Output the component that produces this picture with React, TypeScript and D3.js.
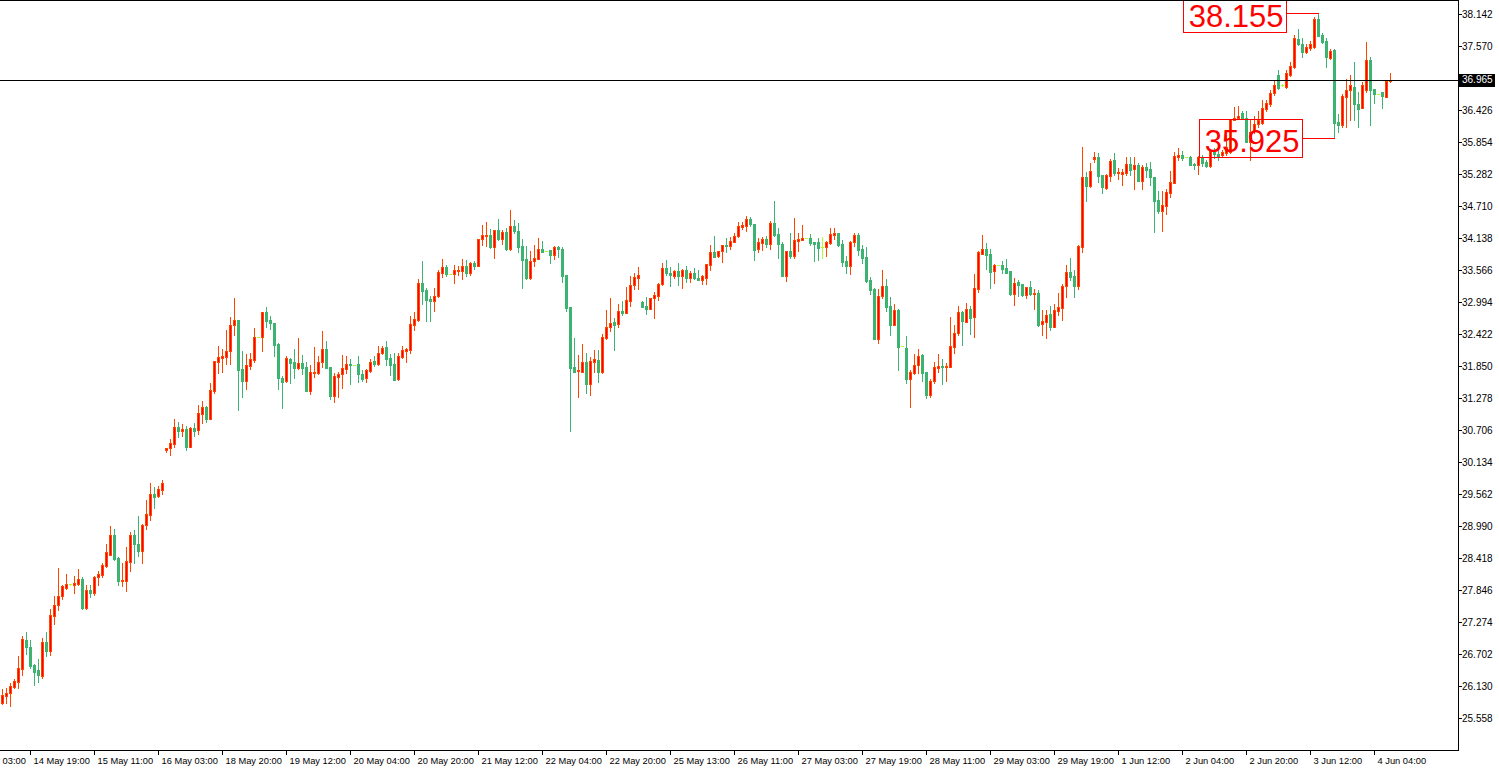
import React, { useEffect } from 'react';
import * as d3 from 'd3';

// ---- data (hourly candles: open, high, low, close) ----
const candles: [number, number, number, number][] = [
  [25.83,26.08,25.81,25.97],[25.96,26.09,25.83,26.00],[26.00,26.18,25.78,26.13],[26.12,26.25,26.09,26.22],
  [26.21,26.67,26.09,26.45],[26.44,27.02,26.33,26.97],[26.95,27.09,26.71,26.82],[26.83,26.95,26.45,26.49],
  [26.51,26.52,26.15,26.38],[26.42,26.61,26.21,26.33],[26.31,26.99,26.28,26.92],[26.92,27.09,26.67,26.75],
  [26.76,27.50,26.68,27.40],[27.39,27.74,27.24,27.58],[27.57,28.24,27.49,27.74],[27.73,27.93,27.69,27.92],
  [27.89,28.14,27.86,27.95],[27.95,27.96,27.94,27.95],[27.94,28.10,27.79,27.98],[27.95,28.22,27.93,28.04],
  [28.04,28.07,27.51,27.52],[27.52,27.93,27.51,27.85],[27.85,27.93,27.72,27.79],[27.80,28.10,27.76,28.08],
  [28.07,28.18,27.94,28.13],[28.11,28.33,28.08,28.29],[28.28,28.66,28.26,28.52],[28.48,28.99,28.47,28.83],
  [28.83,28.93,28.38,28.40],[28.41,28.43,27.93,28.00],[28.00,28.33,27.92,28.02],[28.01,28.62,27.83,28.36],
  [28.35,28.88,28.19,28.83],[28.83,28.92,28.32,28.67],[28.67,29.17,28.46,28.55],[28.55,29.03,28.32,29.01],
  [29.00,29.46,28.94,29.20],[29.19,29.76,29.10,29.57],[29.57,29.69,29.32,29.50],[29.53,29.70,29.51,29.65],
  [29.64,29.81,29.56,29.76],[30.34,30.38,30.32,30.38],[30.38,30.54,30.26,30.47],[30.46,30.90,30.41,30.76],
  [30.76,30.85,30.58,30.69],[30.69,30.81,30.60,30.73],[30.73,30.78,30.35,30.40],[30.41,30.76,30.41,30.74],
  [30.74,30.83,30.60,30.68],[30.70,31.15,30.64,31.01],[31.00,31.22,30.83,31.12],[31.12,31.14,30.85,30.91],
  [30.91,31.55,30.91,31.42],[31.40,31.94,31.37,31.94],[31.93,32.21,31.72,32.01],[32.00,32.15,31.74,32.03],
  [32.01,32.49,31.89,32.12],[32.11,32.73,31.89,32.58],[32.58,33.07,32.40,32.67],[32.67,32.67,31.06,31.78],
  [31.80,32.12,31.30,31.59],[31.59,32.06,31.43,31.87],[31.85,32.08,31.80,31.97],[31.96,32.53,31.93,32.37],
  [32.36,32.36,32.36,32.36],[32.36,32.82,32.12,32.82],[32.82,32.90,32.54,32.66],[32.67,32.74,32.52,32.62],
  [32.62,32.62,32.03,32.22],[32.24,32.27,31.43,31.64],[31.64,31.68,31.10,31.57],[31.58,32.02,31.56,31.99],
  [31.97,32.00,31.55,31.90],[31.92,32.15,31.64,31.82],[31.81,32.35,31.80,31.90],[31.90,32.05,31.71,31.82],
  [31.84,31.92,31.40,31.41],[31.41,31.87,31.35,31.74],[31.74,32.19,31.66,31.75],[31.73,32.03,31.71,31.93],
  [31.93,32.48,31.84,32.15],[32.15,32.30,31.82,31.82],[31.83,31.83,31.26,31.32],[31.32,31.72,31.20,31.67],
  [31.66,31.75,31.29,31.71],[31.70,32.05,31.46,31.81],[31.80,32.02,31.72,31.88],[31.88,31.97,31.53,31.86],
  [31.86,31.86,31.86,31.86],[31.88,32.02,31.57,31.71],[31.71,31.77,31.59,31.62],[31.63,31.80,31.56,31.77],
  [31.76,31.97,31.74,31.93],[31.94,32.03,31.85,31.89],[31.89,32.21,31.87,32.09],[32.09,32.21,32.06,32.17],
  [32.19,32.30,31.87,31.98],[31.99,32.06,31.69,31.87],[31.89,32.08,31.60,31.60],[31.62,32.08,31.60,32.03],
  [32.01,32.21,31.99,32.13],[32.12,32.18,31.92,32.15],[32.14,32.75,32.08,32.60],[32.59,32.82,32.49,32.69],
  [32.68,33.41,32.65,33.33],[33.33,33.73,32.96,33.19],[33.21,33.25,32.66,33.03],[33.05,33.10,32.66,33.02],
  [33.02,33.24,32.84,33.11],[33.11,33.56,33.09,33.53],[33.52,33.76,33.44,33.62],[33.62,33.65,33.45,33.50],
  [33.50,33.50,33.50,33.50],[33.50,33.65,33.34,33.57],[33.54,33.64,33.48,33.57],[33.55,33.76,33.41,33.64],
  [33.64,33.74,33.46,33.51],[33.51,33.71,33.48,33.69],[33.69,33.73,33.58,33.64],[33.64,34.12,33.64,34.12],
  [34.12,34.37,34.01,34.19],[34.19,34.42,33.99,34.20],[34.19,34.30,33.96,33.98],[33.98,34.28,33.78,34.28],
  [34.28,34.48,34.10,34.12],[34.12,34.28,34.03,34.24],[34.24,34.32,33.92,33.94],[33.94,34.64,33.92,34.35],
  [34.35,34.46,34.23,34.26],[34.26,34.40,33.89,33.98],[34.00,34.12,33.24,33.75],[33.76,33.99,33.41,33.42],
  [33.43,33.91,33.41,33.73],[33.73,34.01,33.64,33.78],[33.76,34.14,33.76,33.94],[33.94,34.08,33.89,33.89],
  [33.91,33.91,33.91,33.91],[33.92,33.92,33.69,33.83],[33.83,34.00,33.76,33.98],[33.98,34.00,33.80,33.94],
  [33.94,33.98,33.35,33.46],[33.48,33.48,32.83,32.89],[32.90,32.90,30.69,31.82],[31.83,32.35,31.75,31.75],
  [31.77,32.05,31.30,31.78],[31.75,32.24,31.74,31.92],[31.92,32.08,31.37,31.53],[31.53,32.01,31.34,31.94],
  [31.93,32.14,31.75,31.97],[31.96,32.14,31.57,31.75],[31.75,32.42,31.73,32.37],[32.35,32.85,32.33,32.55],
  [32.54,33.07,32.48,32.62],[32.63,32.71,32.14,32.58],[32.60,32.96,32.55,32.83],[32.83,33.01,32.76,32.80],
  [32.80,33.26,32.80,33.03],[33.01,33.45,32.92,33.30],[33.30,33.52,33.23,33.44],[33.43,33.62,33.23,33.48],
  [32.99,33.01,32.90,32.90],[32.92,33.08,32.78,32.87],[32.87,33.06,32.87,33.06],[33.06,33.18,32.70,33.12],
  [33.10,33.33,33.03,33.31],[33.31,33.69,33.30,33.60],[33.60,33.74,33.47,33.51],[33.51,33.62,33.28,33.47],
  [33.45,33.56,33.42,33.54],[33.54,33.69,33.30,33.46],[33.46,33.58,33.25,33.56],[33.57,33.64,33.35,33.43],
  [33.43,33.55,33.35,33.51],[33.51,33.60,33.40,33.43],[33.43,33.57,33.39,33.39],[33.39,33.48,33.31,33.46],
  [33.43,33.67,33.32,33.67],[33.65,34.01,33.56,33.88],[33.89,34.17,33.80,33.80],[33.82,33.91,33.80,33.90],
  [33.91,34.02,33.71,34.02],[34.02,34.13,33.89,33.99],[33.99,34.15,33.95,34.08],[34.07,34.22,34.06,34.17],
  [34.17,34.42,34.16,34.35],[34.33,34.43,34.29,34.37],[34.36,34.53,34.26,34.48],[34.48,34.51,34.36,34.38],
  [34.39,34.39,33.74,33.92],[33.94,34.13,33.89,34.07],[34.05,34.16,33.92,34.12],[34.12,34.17,33.98,34.03],
  [34.03,34.44,33.94,34.41],[34.41,34.80,34.17,34.19],[34.21,34.32,33.78,34.03],[34.03,34.07,33.46,33.46],
  [33.46,33.91,33.37,33.91],[33.91,34.23,33.78,33.82],[33.82,34.50,33.78,34.10],[34.08,34.23,33.91,34.12],
  [34.10,34.37,34.10,34.14],[34.13,34.13,34.13,34.13],[34.14,34.21,34.01,34.05],[34.07,34.07,33.73,34.03],
  [34.07,34.14,33.74,33.96],[33.97,34.15,33.78,33.97],[33.97,34.08,33.82,34.07],[34.05,34.32,34.03,34.21],
  [34.19,34.32,34.12,34.23],[34.23,34.23,33.99,34.01],[34.03,34.10,33.64,33.71],[33.73,33.82,33.51,33.64],
  [33.64,34.08,33.49,34.07],[34.06,34.23,33.99,34.19],[34.19,34.23,33.83,33.92],[33.94,34.01,33.69,33.78],
  [33.80,33.98,33.35,33.37],[33.39,33.44,33.14,33.21],[33.23,33.24,32.34,32.34],[32.34,33.23,32.27,33.10],
  [33.11,33.57,33.06,33.28],[33.28,33.40,32.83,32.90],[32.92,33.08,32.40,32.58],[32.58,32.96,32.58,32.85],
  [32.85,32.87,31.77,32.19],[32.20,32.20,32.20,32.20],[32.17,32.38,31.55,31.62],[31.62,31.77,31.12,31.74],
  [31.73,32.06,31.71,31.86],[31.86,32.16,31.73,32.02],[32.04,32.06,31.59,31.73],[31.74,31.74,31.27,31.34],
  [31.34,31.62,31.30,31.58],[31.58,31.93,31.55,31.83],[31.82,32.06,31.75,31.85],[31.85,31.97,31.53,31.83],
  [31.84,31.90,31.59,31.85],[31.84,32.73,31.84,32.20],[32.19,32.58,32.09,32.44],[32.44,32.92,32.40,32.81],
  [32.81,32.83,32.22,32.65],[32.63,32.97,32.63,32.87],[32.87,32.92,32.42,32.71],[32.72,33.49,32.37,33.24],
  [33.23,33.91,33.18,33.89],[33.85,34.19,33.85,33.94],[33.94,34.05,33.59,33.84],[33.85,33.94,33.25,33.53],
  [33.54,33.67,33.34,33.66],[33.65,33.65,33.65,33.65],[33.66,33.73,33.52,33.59],[33.60,33.76,33.52,33.52],
  [33.55,33.55,33.12,33.14],[33.14,33.42,32.94,33.33],[33.35,33.39,33.10,33.30],[33.32,33.32,33.10,33.12],
  [33.12,33.26,33.06,33.26],[33.26,33.37,33.12,33.14],[33.15,33.23,32.87,33.16],[33.15,33.21,32.56,32.58],
  [32.60,32.85,32.40,32.65],[32.63,32.85,32.35,32.76],[32.78,32.92,32.49,32.55],[32.55,32.96,32.55,32.85],
  [32.84,33.15,32.76,32.90],[32.89,33.32,32.67,33.28],[33.28,33.66,33.08,33.53],[33.53,33.78,33.39,33.44],
  [33.46,33.57,33.08,33.28],[33.28,34.01,33.23,33.99],[33.98,35.77,33.88,35.23],[35.23,35.32,34.80,35.07],
  [35.07,35.48,35.05,35.34],[35.55,35.67,35.50,35.59],[35.59,35.66,35.14,35.25],[35.27,35.27,34.94,35.05],
  [35.03,35.28,35.01,35.26],[35.25,35.55,35.16,35.51],[35.53,35.66,35.26,35.30],[35.30,35.39,35.19,35.32],
  [35.28,35.37,35.08,35.32],[35.30,35.59,35.26,35.46],[35.46,35.59,35.27,35.36],[35.37,35.59,35.01,35.44],
  [35.44,35.48,35.16,35.16],[35.16,35.44,35.02,35.41],[35.41,35.48,35.22,35.36],[35.37,35.50,35.08,35.23],
  [35.23,35.23,34.25,34.80],[34.82,34.98,34.58,34.62],[34.62,34.98,34.26,34.73],[34.71,35.01,34.57,34.96],
  [34.94,35.34,34.87,35.14],[35.12,35.67,35.12,35.60],[35.59,35.75,35.53,35.62],[35.62,35.69,35.53,35.57],
  [35.59,35.59,35.59,35.59],[35.59,35.60,35.44,35.44],[35.46,35.48,35.37,35.45],[35.44,35.60,35.28,35.59],
  [35.59,35.62,35.42,35.48],[35.50,35.53,35.41,35.42],[35.42,35.71,35.41,35.69],[35.69,35.75,35.57,35.64],
  [35.64,35.71,35.53,35.59],[35.62,35.71,35.59,35.68],[35.65,35.98,35.62,35.77],[35.68,36.27,35.65,36.26],
  [36.25,36.48,36.25,36.29],[36.28,36.50,36.28,36.31],[36.38,36.40,36.26,36.28],[36.29,36.40,35.86,35.86],
  [35.86,36.25,35.53,36.04],[36.05,36.32,36.01,36.18],[36.18,36.41,36.12,36.25],[36.19,36.60,36.17,36.46],
  [36.44,36.60,36.41,36.55],[36.53,36.78,36.50,36.73],[36.73,36.96,36.69,36.87],[37.05,37.14,36.80,36.82],
  [36.87,36.89,36.86,36.87],[36.84,37.14,36.82,37.08],[37.06,37.28,37.03,37.21],[37.20,37.77,37.18,37.71],
  [37.70,37.87,37.59,37.61],[37.61,37.71,37.38,37.47],[37.47,37.61,37.44,37.56],[37.53,37.66,37.50,37.60],
  [37.56,38.09,37.53,38.05],[38.05,38.155,37.74,37.75],[37.77,37.80,37.62,37.65],[37.66,37.71,37.20,37.37],
  [37.36,37.52,37.33,37.48],[37.49,37.52,35.925,36.19],[36.21,36.35,36.04,36.15],[36.15,36.71,36.12,36.68],
  [36.66,36.98,36.13,36.78],[36.78,37.05,36.25,36.87],[36.83,37.28,36.25,36.53],[36.53,36.75,36.13,36.44],
  [36.47,36.93,36.46,36.87],[36.78,37.65,36.75,37.32],[37.32,37.38,36.16,36.78],[36.80,36.81,36.55,36.72],
  [36.72,36.72,36.72,36.72],[36.74,36.75,36.46,36.68],[36.66,36.96,36.65,36.94],[36.94,37.08,36.93,36.965],
];

const timeLabels = [
  '14 May 03:00', '14 May 19:00', '15 May 11:00', '16 May 03:00', '18 May 20:00', '19 May 12:00',
  '20 May 04:00', '20 May 20:00', '21 May 12:00', '22 May 04:00', '22 May 20:00', '25 May 13:00',
  '26 May 11:00', '27 May 03:00', '27 May 19:00', '28 May 11:00', '29 May 03:00', '29 May 19:00',
  '1 Jun 12:00', '2 Jun 04:00', '2 Jun 20:00', '3 Jun 12:00', '4 Jun 04:00',
];
// bar index of the first time label (a label every 16 bars)
const timeLabelStart = -9;
const timeLabelStep = 16;

const priceTicks = [
  38.142, 37.570, 36.998, 36.426, 35.854, 35.282, 34.710, 34.138, 33.566, 32.994, 32.422, 31.850,
  31.278, 30.706, 30.134, 29.562, 28.990, 28.418, 27.846, 27.274, 26.702, 26.130, 25.558,
];

const lastPrice = 36.965;

const markers = [
  { index: 329, value: 38.155, label: '38.155' },
  { index: 333, value: 35.925, label: '35.925' },
];

const W = 1499;
const H = 770;
const PLOT_R = 1458;
const PLOT_B = 750;
const UP_EDGE = '#FF4500';
const UP_FILL = '#FF0000';
const DOWN = '#3CB371';
const DOJI = '#ADFF2F';
const FONT = '"Liberation Sans", Arial, sans-serif';

export default function App() {
  useEffect(() => {
    document.body.style.margin = '0';
    document.body.style.overflow = 'hidden';
  }, []);

  const x = d3.scaleLinear().domain([0, 1]).range([2.5, 6.5]);
  const y = d3.scaleLinear().domain([25.558, 38.142]).range([718, 14]);
  const fmt = d3.format('.3f');
  const lastY = y(lastPrice);

  const candleEls = candles.map(([o, h, l, c], i) => {
    const cx = x(i);
    const yh = Math.round(y(h));
    const yl = Math.round(y(l));
    if (o === c) {
      const yc = Math.round(y(c));
      return (
        <g key={i}>
          {yl > yh && <rect x={cx - 0.5} y={yh} width={1} height={yl - yh + 1} fill={DOJI} />}
          <rect x={cx - 1.5} y={yc} width={3} height={1} fill={DOJI} />
        </g>
      );
    }
    const up = c > o;
    const top = Math.round(y(Math.max(o, c)));
    const bot = Math.round(y(Math.min(o, c)));
    const bh = Math.max(1, bot - top);
    return (
      <g key={i}>
        <rect x={cx - 0.5} y={yh} width={1} height={Math.max(1, yl - yh + 1)} fill={up ? UP_EDGE : DOWN} />
        <rect x={cx - 1.5} y={top} width={3} height={bh + 1} fill={up ? UP_EDGE : DOWN} />
        {up && bh > 1 && <rect x={cx - 0.5} y={top + 1} width={1} height={bh - 1} fill={UP_FILL} />}
      </g>
    );
  });

  const lastYr = Math.round(lastY) + 0.5;

  return (
    <svg
      width={W}
      height={H}
      style={{ position: 'absolute', left: 0, top: 0, background: '#ffffff' }}
      fontFamily={FONT}
    >
      <defs>
        <clipPath id="plotClip">
          <rect x={0} y={0} width={PLOT_R} height={PLOT_B} />
        </clipPath>
      </defs>
      <rect x={0} y={0} width={W} height={H} fill="#ffffff" />

      <g clipPath="url(#plotClip)" shapeRendering="crispEdges">
        {candleEls}
        <line x1={0} x2={PLOT_R} y1={lastYr} y2={lastYr} stroke="#000" strokeWidth={1} />
      </g>

      {/* high / low markers */}
      <g clipPath="url(#plotClip)">
        {markers.map((m) => {
          const my = y(m.value);
          const right = x(m.index) - 33;
          const bw = 103;
          const bhh = 38;
          return (
            <g key={m.label}>
              <line x1={right} x2={x(m.index)} y1={Math.round(my) + 0.5} y2={Math.round(my) + 0.5} stroke="#FF0000" strokeWidth={1} shapeRendering="crispEdges" />
              <rect x={Math.round(right - bw) + 0.5} y={Math.round(my - bhh / 2) + 0.5} width={bw} height={bhh} fill="none" stroke="#FF0000" strokeWidth={1} shapeRendering="crispEdges" />
              <text x={right - 2} y={my + 14} textAnchor="end" fontSize={31} fill="#FF0000">{m.label}</text>
            </g>
          );
        })}
      </g>

      {/* frame */}
      <g shapeRendering="crispEdges" stroke="#000" strokeWidth={1}>
        <line x1={0} x2={PLOT_R + 0.5} y1={0.5} y2={0.5} />
        <line x1={PLOT_R + 0.5} x2={PLOT_R + 0.5} y1={0} y2={PLOT_B + 0.5} />
        <line x1={0} x2={PLOT_R + 0.5} y1={PLOT_B + 0.5} y2={PLOT_B + 0.5} />
      </g>

      {/* price axis */}
      <g fontSize={10} fill="#000">
        {priceTicks.map((t) => {
          const ty = y(t);
          if (Math.abs(ty - lastY) < 9) return null;
          return (
            <g key={t}>
              <line x1={PLOT_R} x2={PLOT_R + 4} y1={Math.round(ty) + 0.5} y2={Math.round(ty) + 0.5} stroke="#000" shapeRendering="crispEdges" />
              <text x={PLOT_R + 4} y={ty} dy="0.35em">{fmt(t)}</text>
            </g>
          );
        })}
        <rect x={PLOT_R + 1} y={Math.round(lastY) - 6} width={36} height={13} fill="#000" />
        <text x={PLOT_R + 4} y={lastY} dy="0.35em" fill="#fff">{fmt(lastPrice)}</text>
      </g>

      {/* time axis */}
      <g fontSize={9.3} fill="#000">
        {timeLabels.map((lab, j) => {
          const tx = Math.round(x(timeLabelStart + j * timeLabelStep)) - 0.5;
          return (
            <g key={lab}>
              <line x1={tx} x2={tx} y1={PLOT_B} y2={PLOT_B + 5} stroke="#000" shapeRendering="crispEdges" />
              <text x={tx + 3} y={PLOT_B + 14}>{lab}</text>
            </g>
          );
        })}
      </g>
    </svg>
  );
}
